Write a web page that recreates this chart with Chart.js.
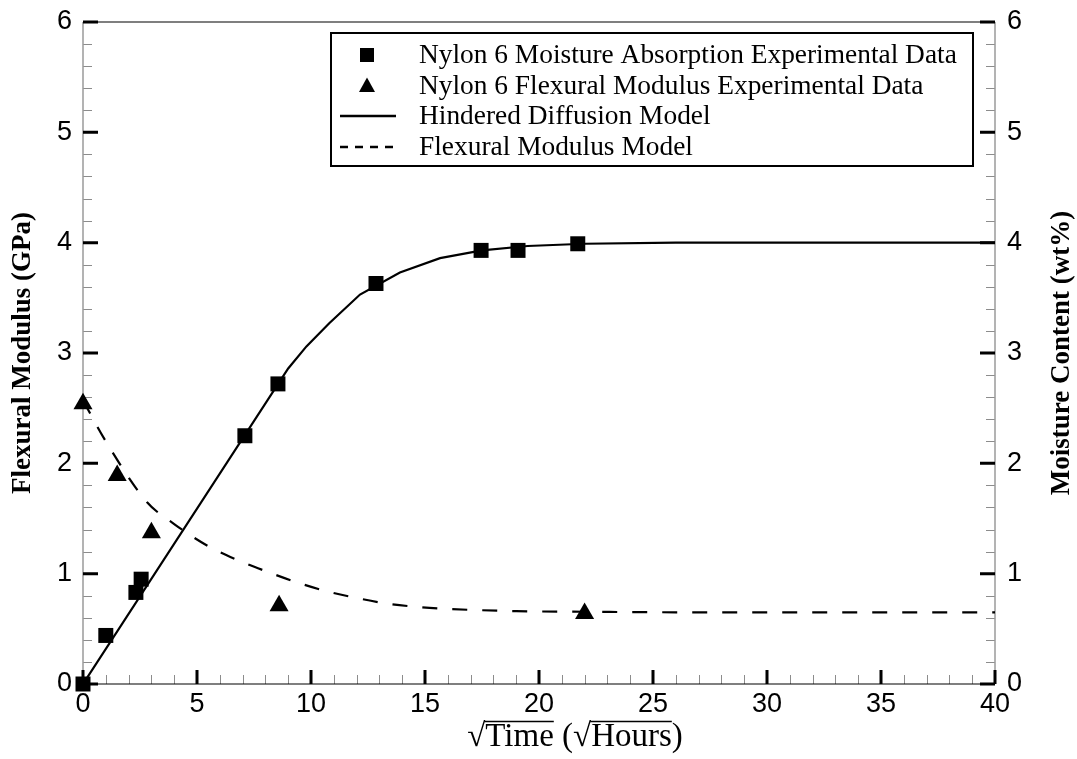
<!DOCTYPE html>
<html>
<head>
<meta charset="utf-8">
<script src="https://cdn.jsdelivr.net/npm/chart.js@4.4.0/dist/chart.umd.min.js"></script>
<style>
  html, body { margin: 0; padding: 0; background: #ffffff; }
  #wrap { width: 1077px; height: 759px; }
</style>
</head>
<body>
<div id="wrap"><canvas id="chart" width="1077" height="759"></canvas></div>
<script>
// Nylon 6 moisture uptake (wt%) against square root of time (sqrt hours)
const moistureTime    = [0, 1.0, 2.32, 2.55, 7.1, 8.55, 12.85, 17.46, 19.08, 21.7];
const moistureContent = [0, 0.44, 0.83, 0.95, 2.25, 2.72, 3.63, 3.93, 3.93, 3.99];

// Nylon 6 flexural modulus (GPa) measurements
const modulusTime  = [0, 1.5, 3.0, 8.6, 22.0];
const modulusValue = [2.54, 1.89, 1.37, 0.71, 0.64];

// Hindered diffusion model curve
const diffusionTime  = [0, 9.0, 9.8, 10.8, 12.15, 13.9, 15.66, 17.5, 19.5, 22, 26, 30, 40];
const diffusionValue = [0, 2.86, 3.06, 3.27, 3.53, 3.73, 3.86, 3.93, 3.97, 3.99, 4.0, 4.0, 4.0];

// Flexural modulus model curve
const modulusModelTime  = [0, 1.0, 2.8, 4.0, 5.4, 6.7, 8.05, 9.4, 10.7, 12.0, 13.3, 14.6, 16.0, 17.3, 19.0, 22.0, 26, 40];
const modulusModelValue = [2.57, 2.20, 1.65, 1.45, 1.26, 1.13, 1.02, 0.92, 0.84, 0.78, 0.73, 0.70, 0.68, 0.67, 0.66, 0.655, 0.65, 0.65];

// Axis ticks
const xTicks = [0, 5, 10, 15, 20, 25, 30, 35, 40];
const yTicks = [0, 1, 2, 3, 4, 5, 6];

const legendLabels = [
  'Nylon 6 Moisture Absorption Experimental Data',
  'Nylon 6 Flexural Modulus Experimental Data',
  'Hindered Diffusion Model',
  'Flexural Modulus Model'
];
const xTitle = ['\u221ATime', ' (', '\u221AHours', ')'];
const yTitleLeft = 'Flexural Modulus (GPa)';
const yTitleRight = 'Moisture Content (wt%)';

const pts = (xs, ys) => xs.map((x, i) => ({ x: x, y: ys[i] }));

const tickFont = { family: '"Liberation Sans", Arial, sans-serif', size: 27 };
const serif = '"Liberation Serif", "Times New Roman", serif';

// Inward tick marks and the frame around the plot area
const framePlugin = {
  id: 'frame',
  beforeDatasetsDraw(chart) {
    const { ctx, chartArea: a, scales } = chart;
    const x = scales.x, y = scales.y, y2 = scales.y2;
    ctx.save();
    // minor ticks
    ctx.strokeStyle = '#8c8c8c';
    ctx.lineWidth = 1;
    ctx.beginPath();
    for (let i = 0; i <= 40; i++) {
      if (i % 5 === 0) continue;
      const px = Math.round(x.getPixelForValue(i)) + 0.5;
      ctx.moveTo(px, a.bottom);
      ctx.lineTo(px, a.bottom - 9);
    }
    for (let i = 0; i <= 30; i++) {
      if (i % 5 === 0) continue;
      const v = i / 5;
      const py = Math.round(y.getPixelForValue(v)) + 0.5;
      ctx.moveTo(a.left, py);
      ctx.lineTo(a.left + 9, py);
      const py2 = Math.round(y2.getPixelForValue(v)) + 0.5;
      ctx.moveTo(a.right, py2);
      ctx.lineTo(a.right - 9, py2);
    }
    ctx.stroke();
    // frame: grey sides, black top and bottom
    ctx.strokeStyle = '#9a9a9a';
    ctx.lineWidth = 1.5;
    ctx.beginPath();
    ctx.moveTo(a.left, a.top); ctx.lineTo(a.left, a.bottom);
    ctx.moveTo(a.right, a.top); ctx.lineTo(a.right, a.bottom);
    ctx.stroke();
    ctx.strokeStyle = '#000';
    ctx.lineWidth = 1.2;
    ctx.beginPath();
    ctx.moveTo(a.left, a.top); ctx.lineTo(a.right, a.top);
    ctx.moveTo(a.left, a.bottom); ctx.lineTo(a.right, a.bottom);
    ctx.stroke();
    // major ticks
    ctx.strokeStyle = '#000';
    ctx.lineWidth = 3;
    ctx.beginPath();
    xTicks.forEach(v => {
      const px = x.getPixelForValue(v);
      ctx.moveTo(px, a.bottom);
      ctx.lineTo(px, a.bottom - 14);
    });
    yTicks.forEach(v => {
      const py = y.getPixelForValue(v);
      ctx.moveTo(a.left, py);
      ctx.lineTo(a.left + 15, py);
      const py2 = y2.getPixelForValue(v);
      ctx.moveTo(a.right, py2);
      ctx.lineTo(a.right - 15, py2);
    });
    ctx.stroke();
    ctx.restore();
  },
  afterDraw(chart) {
    const { ctx, chartArea: a } = chart;
    ctx.save();
    ctx.fillStyle = '#000';

    // axis titles
    ctx.font = 'bold 27px ' + serif;
    ctx.textAlign = 'center';
    ctx.textBaseline = 'middle';
    const cy = (a.top + a.bottom) / 2;
    ctx.save();
    ctx.translate(23, cy);
    ctx.rotate(-Math.PI / 2);
    ctx.fillText(yTitleLeft, 0, 0);
    ctx.restore();
    ctx.save();
    ctx.translate(1062, cy);
    ctx.rotate(-Math.PI / 2);
    ctx.fillText(yTitleRight, 0, 0);
    ctx.restore();

    // x title with radical overlines
    ctx.font = '33px ' + serif;
    ctx.textAlign = 'left';
    ctx.textBaseline = 'alphabetic';
    const full = xTitle.join('');
    const total = ctx.measureText(full).width;
    let tx = 575 - total / 2;
    const base = 746;
    const rootW = ctx.measureText('\u221A').width;
    ctx.lineWidth = 1.6;
    ctx.strokeStyle = '#000';
    xTitle.forEach(part => {
      const w = ctx.measureText(part).width;
      ctx.fillText(part, tx, base);
      if (part.charAt(0) === '\u221A') {
        ctx.beginPath();
        ctx.moveTo(tx + rootW - 1, base - 24.5);
        ctx.lineTo(tx + w, base - 24.5);
        ctx.stroke();
      }
      tx += w;
    });

    // legend box
    const box = { left: 331, top: 33, right: 973, bottom: 166 };
    ctx.lineWidth = 2;
    ctx.strokeStyle = '#000';
    ctx.strokeRect(box.left, box.top, box.right - box.left, box.bottom - box.top);
    const rows = [55, 86, 116, 147];
    const symX = 367;
    const textX = 419;
    ctx.font = '27.4px ' + serif;
    ctx.textBaseline = 'middle';
    legendLabels.forEach((lab, i) => ctx.fillText(lab, textX, rows[i] + 1));
    // square
    ctx.fillRect(symX - 7, rows[0] - 7, 14, 14);
    // triangle
    ctx.beginPath();
    ctx.moveTo(symX, rows[1] - 8.5);
    ctx.lineTo(symX + 8, rows[1] + 6);
    ctx.lineTo(symX - 8, rows[1] + 6);
    ctx.closePath();
    ctx.fill();
    // solid line
    ctx.lineWidth = 2.4;
    ctx.beginPath();
    ctx.moveTo(340, rows[2]); ctx.lineTo(396, rows[2]);
    ctx.stroke();
    // dashed line
    ctx.setLineDash([8, 7]);
    ctx.beginPath();
    ctx.moveTo(340, rows[3]); ctx.lineTo(396, rows[3]);
    ctx.stroke();
    ctx.setLineDash([]);
    ctx.restore();
  }
};

const fixedTicks = list => scale => { scale.ticks = list.map(v => ({ value: v })); };
const fitVertical = w => s => { s.width = w; s.paddingTop = 0; s.paddingBottom = 0; };

new Chart(document.getElementById('chart'), {
  type: 'scatter',
  data: {
    datasets: [
      {
        label: legendLabels[0],
        data: pts(moistureTime, moistureContent),
        yAxisID: 'y2',
        pointStyle: 'rect',
        pointRadius: 10.6,
        backgroundColor: '#000',
        borderColor: '#000',
        borderWidth: 0,
        clip: false
      },
      {
        label: legendLabels[1],
        data: pts(modulusTime, modulusValue),
        yAxisID: 'y',
        pointStyle: 'triangle',
        pointRadius: 11,
        backgroundColor: '#000',
        borderColor: '#000',
        borderWidth: 0,
        clip: false
      },
      {
        label: legendLabels[2],
        data: pts(diffusionTime, diffusionValue),
        yAxisID: 'y2',
        showLine: true,
        pointRadius: 0,
        borderColor: '#000',
        borderWidth: 2.2,
        tension: 0
      },
      {
        label: legendLabels[3],
        data: pts(modulusModelTime, modulusModelValue),
        yAxisID: 'y',
        showLine: true,
        pointRadius: 0,
        borderColor: '#000',
        borderWidth: 2.2,
        borderDash: [15, 15],
        cubicInterpolationMode: 'monotone'
      }
    ]
  },
  options: {
    responsive: false,
    animation: false,
    devicePixelRatio: 1,
    layout: { padding: { top: 22, left: 0, right: 0, bottom: 0 } },
    plugins: { legend: { display: false }, tooltip: { enabled: false } },
    scales: {
      x: {
        type: 'linear', min: 0, max: 40,
        afterBuildTicks: fixedTicks(xTicks),
        afterFit: s => { s.height = 75; s.paddingLeft = 0; s.paddingRight = 0; },
        grid: { display: false, drawTicks: false },
        border: { display: false },
        ticks: { font: tickFont, color: '#000', padding: 4, maxRotation: 0, autoSkip: false }
      },
      y: {
        type: 'linear', position: 'left', min: 0, max: 6,
        afterBuildTicks: fixedTicks(yTicks),
        afterFit: fitVertical(83),
        grid: { display: false, drawTicks: false },
        border: { display: false },
        ticks: { font: tickFont, color: '#000', padding: 11, autoSkip: false }
      },
      y2: {
        type: 'linear', position: 'right', min: 0, max: 6,
        afterBuildTicks: fixedTicks(yTicks),
        afterFit: fitVertical(82),
        grid: { display: false, drawTicks: false },
        border: { display: false },
        ticks: { font: tickFont, color: '#000', padding: 12, autoSkip: false }
      }
    }
  },
  plugins: [framePlugin]
});
</script>
</body>
</html>
